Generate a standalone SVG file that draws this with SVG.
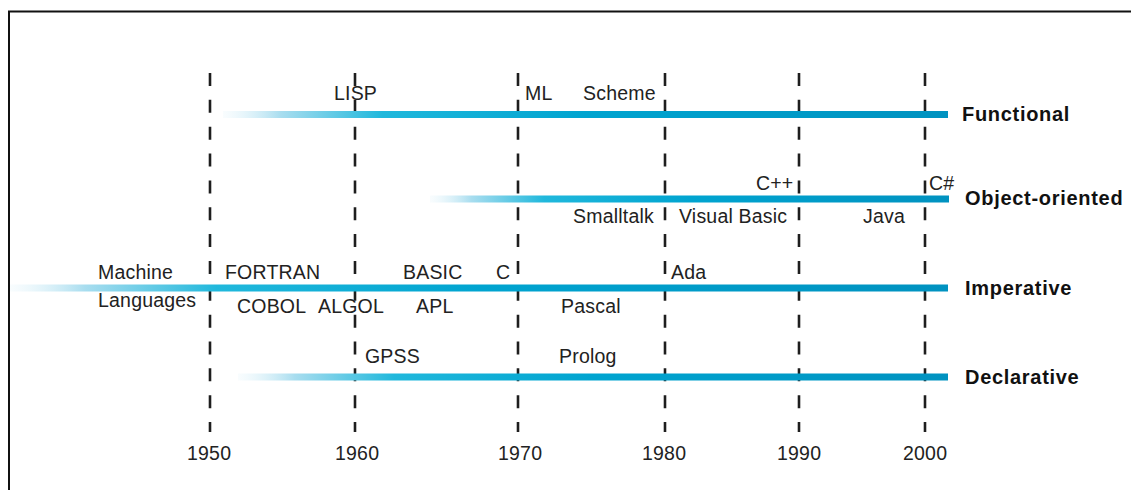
<svg xmlns="http://www.w3.org/2000/svg" width="1131" height="490" viewBox="0 0 1131 490">
<defs>
<linearGradient id="bar" x1="0" y1="0" x2="1" y2="0">
<stop offset="0" stop-color="#e6f5fb" stop-opacity="0.25"/>
<stop offset="0.08" stop-color="#a8ddef"/>
<stop offset="0.22" stop-color="#20b8dc"/>
<stop offset="0.5" stop-color="#00a4d0"/>
<stop offset="1" stop-color="#0092c0"/>
</linearGradient>
<style>
.t{font-family:"Liberation Sans",Arial,sans-serif;font-size:19.5px;fill:#222;letter-spacing:0.2px}
.b{font-family:"Liberation Sans",Arial,sans-serif;font-size:20px;font-weight:bold;fill:#111;letter-spacing:0.7px}
.d{stroke:#1e1e1e;stroke-width:2.6;stroke-dasharray:13 13.85;fill:none}
.bar{fill:url(#bar)}
</style>
</defs>
<rect x="0" y="0" width="1131" height="490" fill="#ffffff"/>
<rect x="9" y="11.5" width="1140" height="500" fill="none" stroke="#111" stroke-width="2"/>

<g id="decades">
<line class="d" x1="210" y1="73" x2="210" y2="432"/>
<line class="d" x1="355" y1="73" x2="355" y2="432"/>
<line class="d" x1="518" y1="73" x2="518" y2="432"/>
<line class="d" x1="665" y1="73" x2="665" y2="432"/>
<line class="d" x1="799" y1="73" x2="799" y2="432"/>
<line class="d" x1="925" y1="73" x2="925" y2="432"/>
<text class="t" x="187" y="460">1950</text>
<text class="t" x="335" y="460">1960</text>
<text class="t" x="498" y="460">1970</text>
<text class="t" x="642" y="460">1980</text>
<text class="t" x="777" y="460">1990</text>
<text class="t" x="903" y="460">2000</text>
</g>

<g id="functional">
<rect class="bar" x="223" y="111" width="725" height="7"/>
<text class="t" x="334" y="100">LISP</text>
<text class="t" x="525" y="100">ML</text>
<text class="t" x="583" y="100">Scheme</text>
<text class="b" x="962" y="121">Functional</text>
</g>

<g id="object-oriented">
<rect class="bar" x="430" y="195.5" width="519" height="7"/>
<text class="t" x="756" y="190">C++</text>
<text class="t" x="929" y="190">C#</text>
<text class="t" x="573" y="223">Smalltalk</text>
<text class="t" x="679" y="223">Visual Basic</text>
<text class="t" x="863" y="223">Java</text>
<text class="b" x="965" y="205">Object-oriented</text>
</g>

<g id="imperative">
<rect class="bar" x="10" y="284.5" width="938" height="7"/>
<text class="t" x="98" y="279">Machine</text>
<text class="t" x="98" y="307">Languages</text>
<text class="t" x="225" y="279">FORTRAN</text>
<text class="t" x="403" y="279">BASIC</text>
<text class="t" x="496" y="279">C</text>
<text class="t" x="671" y="279">Ada</text>
<text class="t" x="237" y="313">COBOL</text>
<text class="t" x="318" y="313">ALGOL</text>
<text class="t" x="416" y="313">APL</text>
<text class="t" x="561" y="313">Pascal</text>
<text class="b" x="965" y="295">Imperative</text>
</g>

<g id="declarative">
<rect class="bar" x="238" y="373.5" width="710" height="7"/>
<text class="t" x="365" y="363">GPSS</text>
<text class="t" x="559" y="363">Prolog</text>
<text class="b" x="965" y="384">Declarative</text>
</g>
</svg>
